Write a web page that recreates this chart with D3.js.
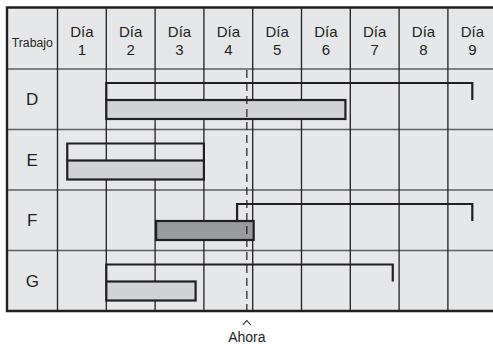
<!DOCTYPE html>
<html>
<head>
<meta charset="utf-8">
<script src="https://cdn.jsdelivr.net/npm/d3@7"></script>
<style>
  body { margin: 0; background: #fff; }
  svg { display: block; font-family: "Liberation Sans", Arial, sans-serif; }
</style>
</head>
<body>
<svg id="chart" width="493" height="344"></svg>
<script>
// data (days are in column units, 0 = start of Día 1)
var jobs = ["D", "E", "F", "G"];
var dayLabels = ["1", "2", "3", "4", "5", "6", "7", "8", "9"];
var planStart = [1, 0.2, 3.68, 1];
var planEnd = [8.5, 3, 8.5, 6.87];
var doneStart = [1, 0.2, 2.02, 1];
var doneEnd = [5.9, 3, 4.02, 2.83];
var doneTone = ["light", "light", "dark", "light"];
var now = 3.88;

var svg = d3.select("#chart");

// note: "top" is taken by window.top, so frame values get their own names
var fLeft = 7, labelW = 50.5, fTop = 7.5, headH = 61.5, fBottom = 311;
var x = d3.scaleLinear().domain([0, dayLabels.length]).range([fLeft + labelW, fLeft + labelW + 48.8 * dayLabels.length]);
var y = d3.scaleBand().domain(jobs).range([fTop + headH, fBottom]).paddingInner(0);
var fills = { light: "#d2d3d5", dark: "#9a9b9d" };

// background
svg.append("rect")
  .attr("x", fLeft).attr("y", fTop)
  .attr("width", x.range()[1] - fLeft).attr("height", fBottom - fTop)
  .attr("fill", "#e6e7e8");

// horizontal grid lines (header bottom + row separators)
var hy = [fTop + headH].concat(jobs.slice(1).map(function(d){ return y(d); }));
svg.selectAll("line.h").data(hy).enter().append("line")
  .attr("class", "h")
  .attr("x1", fLeft).attr("x2", x.range()[1])
  .attr("y1", function(d){ return d; }).attr("y2", function(d){ return d; })
  .attr("stroke", "#5e5f61").attr("stroke-width", 1.6);

// vertical grid lines
var vx = d3.range(0, dayLabels.length + 1);
svg.selectAll("line.v").data(vx).enter().append("line")
  .attr("class", "v")
  .attr("x1", function(d){ return x(d); }).attr("x2", function(d){ return x(d); })
  .attr("y1", fTop).attr("y2", fBottom)
  .attr("stroke", "#231f20").attr("stroke-width", 1.3);

// header text
svg.append("text")
  .attr("x", fLeft + labelW / 2).attr("y", 47)
  .attr("text-anchor", "middle")
  .attr("font-size", 12.5)
  .attr("textLength", 41).attr("lengthAdjust", "spacingAndGlyphs")
  .attr("fill", "#231f20")
  .text("Trabajo");

var head = svg.selectAll("g.day").data(dayLabels).enter().append("g")
  .attr("class", "day")
  .attr("transform", function(d, i){ return "translate(" + x(i + 0.5) + ",0)"; });
head.append("text")
  .attr("y", 36.7).attr("text-anchor", "middle")
  .attr("font-size", 15).attr("fill", "#231f20")
  .text("Día");
head.append("text")
  .attr("y", 55).attr("text-anchor", "middle")
  .attr("font-size", 15).attr("fill", "#231f20")
  .text(function(d){ return d; });

// job labels
svg.selectAll("text.job").data(jobs).enter().append("text")
  .attr("class", "job")
  .attr("x", fLeft + labelW / 2)
  .attr("y", function(d){ return y(d) + y.bandwidth() / 2 + 6; })
  .attr("text-anchor", "middle")
  .attr("font-size", 17).attr("fill", "#231f20")
  .text(function(d){ return d; });

// done bars
svg.selectAll("rect.done").data(jobs).enter().append("rect")
  .attr("class", "done")
  .attr("x", function(d, i){ return x(doneStart[i]); })
  .attr("y", function(d){ return y(d) + 31; })
  .attr("width", function(d, i){ return x(doneEnd[i]) - x(doneStart[i]); })
  .attr("height", 19)
  .attr("fill", function(d, i){ return fills[doneTone[i]]; })
  .attr("stroke", "#231f20").attr("stroke-width", 2.2);

// planned brackets
svg.selectAll("path.plan").data(jobs).enter().append("path")
  .attr("class", "plan")
  .attr("d", function(d, i){
    var t = y(d) + 14, b = y(d) + 31;
    return "M" + x(planStart[i]) + "," + b + "V" + t + "H" + x(planEnd[i]) + "V" + b;
  })
  .attr("fill", "none")
  .attr("stroke", "#231f20").attr("stroke-width", 2.2);

// now line
svg.append("line")
  .attr("x1", x(now)).attr("x2", x(now))
  .attr("y1", fTop + headH + 1).attr("y2", fBottom)
  .attr("stroke", "#231f20").attr("stroke-width", 1.2)
  .attr("stroke-dasharray", "8,5");

// outer frame (left, top, bottom)
svg.append("path")
  .attr("d", "M" + x.range()[1] + "," + fTop + "H" + fLeft + "V" + fBottom + "H" + x.range()[1])
  .attr("fill", "none")
  .attr("stroke", "#231f20").attr("stroke-width", 2.4);

// Ahora marker: a small caret drawn as a path, then the label
svg.append("path")
  .attr("d", "M" + (x(now) - 4) + ",325L" + x(now) + ",320.5L" + (x(now) + 4) + ",325")
  .attr("fill", "none")
  .attr("stroke", "#231f20").attr("stroke-width", 1.1);
svg.append("text")
  .attr("x", x(now)).attr("y", 342)
  .attr("text-anchor", "middle")
  .attr("font-size", 14).attr("fill", "#231f20")
  .text("Ahora");
</script>
</body>
</html>
